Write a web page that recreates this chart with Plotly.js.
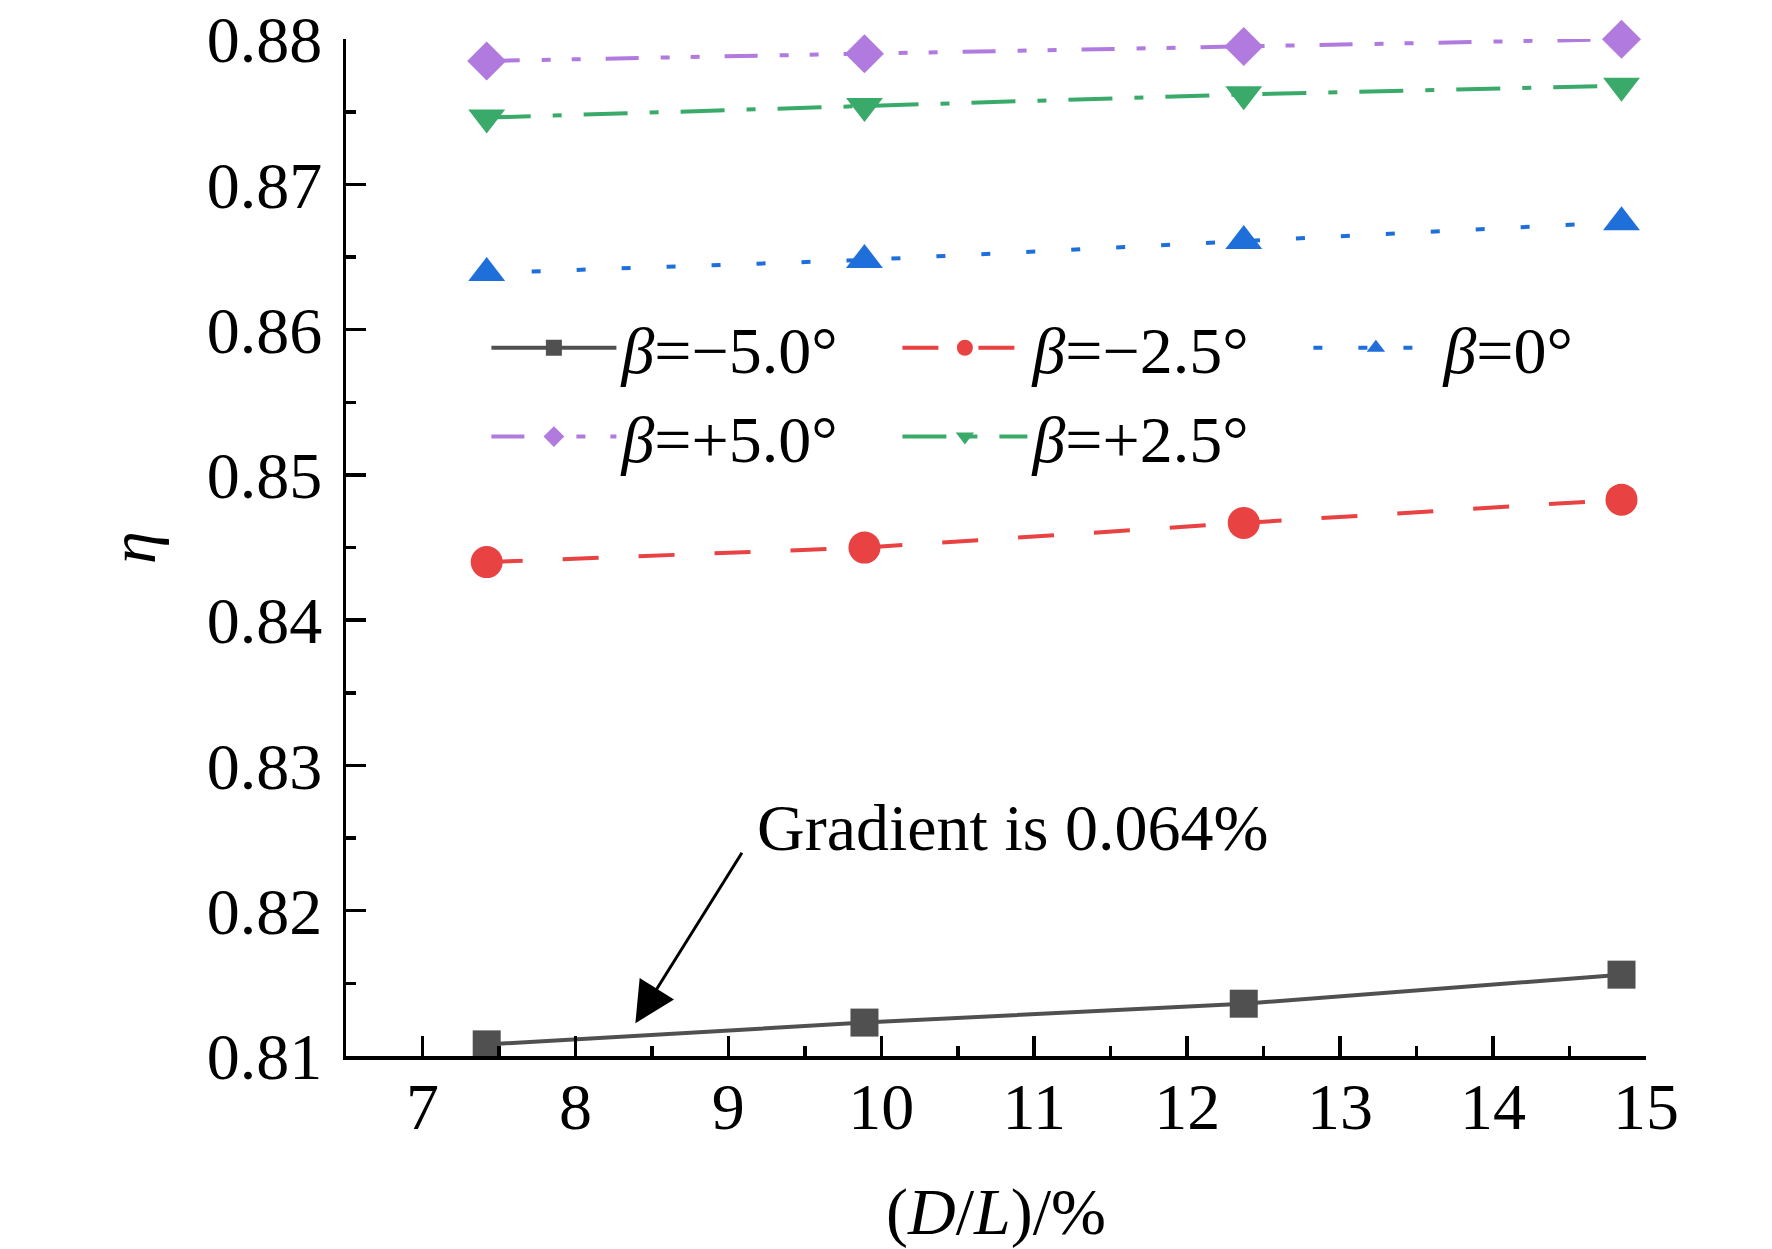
<!DOCTYPE html>
<html>
<head>
<meta charset="utf-8">
<script src="https://cdn.plot.ly/plotly-3.0.1.min.js"></script>
<style>
  body { margin: 0; background: #fff; }
  #plot { width: 1772px; height: 1249px; }
</style>
</head>
<body>
<div id="plot"></div>
<script>
// D/L in %
const ratio = [7.42, 9.89, 12.37, 14.84];

const eta_m50 = [0.8108, 0.8123, 0.8136, 0.8156];
const eta_m25 = [0.8440, 0.8450, 0.8467, 0.8483];
const eta_0   = [0.8639, 0.8648, 0.8661, 0.8674];
const eta_p50 = [0.8785, 0.8790, 0.8795, 0.8800];
const eta_p25 = [0.8746, 0.8754, 0.8762, 0.8768];

const names = ['<i>β</i>=−5.0°', '<i>β</i>=−2.5°', '<i>β</i>=0°', '<i>β</i>=+5.0°', '<i>β</i>=+2.5°'];

const note = 'Gradient is 0.064%';
const notePos = [10.86, 0.8257];
const arrowTail = [9.095, 0.8241];
const arrowHead = [8.392, 0.81226];

const FONT = '"Liberation Serif", "Times New Roman", serif';

function makeSeries(y, name, color, dash, symbol, size) {
  return {
    x: ratio, y,
    type: 'scatter',
    mode: 'lines+markers',
    name,
    cliponaxis: false,
    line: { color, width: 4, dash },
    marker: { color, symbol, size, line: { width: 0 } }
  };
}

const traces = [
  makeSeries(eta_m50, names[0], '#505050', 'solid', 'square', 28),
  makeSeries(eta_m25, names[1], '#e84242', '36px,40px', 'circle', 32),
  makeSeries(eta_0,   names[2], '#1f6fdb', '9px,36px', 'triangle-up', 32),
  makeSeries(eta_p50, names[3], '#b07ade', '33px,22px,9px,21px,9px,25px', 'diamond', 30),
  makeSeries(eta_p25, names[4], '#3aaa6a', '44px,22px,9px,22px', 'triangle-down', 32)
];

const axisBase = {
  showgrid: false,
  zeroline: false,
  showline: true,
  linecolor: '#000',
  linewidth: 3.5,
  ticks: 'inside',
  ticklen: 20,
  tickwidth: 3.5,
  tickcolor: '#000',
  ticklabeloverflow: 'allow',
  tickfont: { family: FONT, size: 66, color: '#000' },
  fixedrange: true
};

const layout = {
  width: 1772,
  height: 1249,
  paper_bgcolor: '#fff',
  plot_bgcolor: '#fff',
  margin: { l: 346, r: 126, t: 39, b: 193 },
  font: { family: FONT, size: 66, color: '#000' },
  xaxis: {
    ...axisBase,
    range: [6.5, 15.0001],
    dtick: 1,
    tick0: 7,
    ticklabelstandoff: -10,
    minor: { dtick: 0.5, ticks: 'inside', ticklen: 10, tickwidth: 3.5, tickcolor: '#000' },
    title: { text: '(<i>D</i>/<i>L</i>)/%', font: { family: FONT, size: 66 }, standoff: 66 }
  },
  yaxis: {
    ...axisBase,
    range: [0.81, 0.88001],
    dtick: 0.01,
    tick0: 0.81,
    tickformat: '.2f',
    ticklabelstandoff: 7,
    minor: { dtick: 0.005, ticks: 'inside', ticklen: 10, tickwidth: 3.5, tickcolor: '#000' },
    title: { text: '<i>η</i>', font: { family: FONT, size: 66 }, standoff: 30 }
  },
  legend: {
    orientation: 'h',
    x: 0.108,
    y: 0.745,
    xanchor: 'left',
    yanchor: 'top',
    bgcolor: 'rgba(0,0,0,0)',
    borderwidth: 0,
    itemwidth: 125,
    entrywidth: 271,
    font: { family: FONT, size: 66, color: '#000' }
  },
  showlegend: true,
  annotations: [
    {
      x: arrowHead[0], y: arrowHead[1],
      ax: arrowTail[0], ay: arrowTail[1],
      xref: 'x', yref: 'y', axref: 'x', ayref: 'y',
      text: '',
      showarrow: true,
      arrowhead: 2,
      arrowsize: 2.7,
      arrowwidth: 3,
      arrowcolor: '#000'
    },
    {
      x: notePos[0], y: notePos[1],
      xref: 'x', yref: 'y',
      text: note,
      showarrow: false,
      font: { family: FONT, size: 66, color: '#000' }
    }
  ]
};

Plotly.newPlot('plot', traces, layout, { displayModeBar: false, staticPlot: true });
</script>
</body>
</html>
